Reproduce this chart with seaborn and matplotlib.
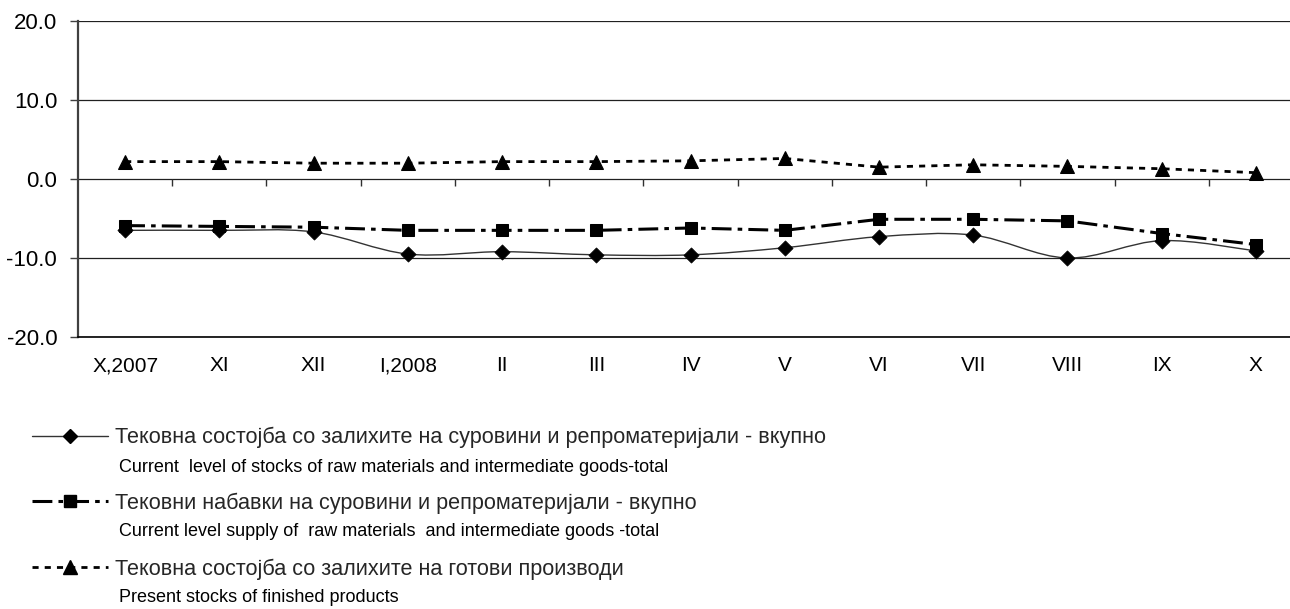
import numpy as np
import pandas as pd
import seaborn as sns
import matplotlib.pyplot as plt
from matplotlib.path import Path
from matplotlib.patches import PathPatch
from matplotlib.lines import Line2D

# values
months = ['X,2007', 'XI', 'XII', 'I,2008', 'II', 'III', 'IV', 'V', 'VI', 'VII', 'VIII', 'IX', 'X']
stocks_raw = [-6.5, -6.5, -6.7, -9.5, -9.2, -9.6, -9.6, -8.7, -7.3, -7.1, -10.0, -7.8, -9.1]
supply_raw = [-5.9, -6.0, -6.1, -6.5, -6.5, -6.5, -6.2, -6.5, -5.1, -5.1, -5.3, -6.9, -8.3]
stocks_finished = [2.2, 2.2, 2.0, 2.0, 2.2, 2.2, 2.3, 2.6, 1.5, 1.8, 1.6, 1.3, 0.8]
y_ticks = [-20, -10, 0, 10, 20]

labels_mk = ['Тековна состојба со залихите на суровини и репроматеријали - вкупно',
             'Тековни набавки на суровини и репроматеријали - вкупно',
             'Тековна состојба со залихите на готови производи']
labels_en = ['Current  level of stocks of raw materials and intermediate goods-total',
             'Current level supply of  raw materials  and intermediate goods -total',
             'Present stocks of finished products']

sns.set_theme(style='white')
plt.rcParams['font.family'] = ['Liberation Sans', 'DejaVu Sans']

x = np.arange(len(months))
df = pd.DataFrame({'x': x, 'stocks': stocks_raw, 'supply': supply_raw,
                   'finished': stocks_finished})

fig = plt.figure(figsize=(12.9, 6.09), dpi=100)
ax = fig.add_axes([78 / 1290, 1 - 337 / 609, 1225 / 1290, 316 / 609])

# smoothed line for raw stocks (excel style bezier through the points)
pts = df[['x', 'stocks']].to_numpy(dtype=float)
verts = [pts[0]]
codes = [Path.MOVETO]
for i in range(len(pts) - 1):
    p0 = pts[i - 1] if i > 0 else pts[i]
    p1, p2 = pts[i], pts[i + 1]
    p3 = pts[i + 2] if i + 2 < len(pts) else pts[i + 1]
    verts += [p1 + (p2 - p0) / 6, p2 - (p3 - p1) / 6, p2]
    codes += [Path.CURVE4] * 3
ax.add_patch(PathPatch(Path(verts, codes), fill=False, edgecolor='#333333', lw=1.0, zorder=3))
sns.scatterplot(data=df, x='x', y='stocks', marker='D', s=60, color='black',
                edgecolor='black', linewidth=0.5, zorder=4, ax=ax)

supply_style = (0, (6.5, 2, 1.5, 2))
finished_style = (0, (2.2, 2.2))
sns.lineplot(data=df, x='x', y='supply', color='black', lw=2.2, linestyle=supply_style,
             marker='s', markersize=8.5, markeredgecolor='black', zorder=4, ax=ax)
sns.lineplot(data=df, x='x', y='finished', color='black', lw=2.0, linestyle=finished_style,
             marker='^', markersize=9.5, markeredgecolor='black', zorder=4, ax=ax)

ax.set_xlim(-0.5, len(months) - 0.5)
ax.set_ylim(-20, 20)
ax.set_yticks(y_ticks)
ax.set_yticklabels([f'{v:.1f}' for v in y_ticks])
ax.set_xticks(x)
ax.set_xticklabels(months)
ax.set_xlabel('')
ax.set_ylabel('')

ax.yaxis.grid(True, color='#202020', lw=0.9)
ax.xaxis.grid(False)
ax.set_axisbelow(True)

# tick marks between categories on the zero line
ax.vlines(x[:-1] + 0.5, -0.9, 0, color='#303030', lw=1.0, zorder=2)

for side in ['top', 'right']:
    ax.spines[side].set_visible(False)
ax.spines['left'].set_color('#404040')
ax.spines['left'].set_linewidth(1.6)
ax.spines['bottom'].set_color('black')
ax.spines['bottom'].set_linewidth(1.2)

ax.tick_params(axis='y', left=True, length=6, width=1, color='#404040', pad=9,
               labelsize=16, labelcolor='black')
ax.tick_params(axis='x', bottom=False, length=0, pad=14, labelsize=15, labelcolor='black')

handles = [
    Line2D([], [], color='#333333', lw=1.0, marker='D', markersize=7,
           markerfacecolor='black', markeredgecolor='black'),
    Line2D([], [], color='black', lw=2.2, linestyle=supply_style, marker='s',
           markersize=8.5, markerfacecolor='black', markeredgecolor='black'),
    Line2D([], [], color='black', lw=2.0, linestyle=finished_style, marker='^',
           markersize=9.5, markerfacecolor='black', markeredgecolor='black'),
]
fig.legend(handles, labels_mk, loc='upper left', bbox_to_anchor=(32 / 1290, 1 - 427 / 609),
           frameon=False, fontsize=15.6, handlelength=3.5, handletextpad=0.35,
           labelspacing=2.05, borderpad=0, borderaxespad=0, numpoints=1)

for i, txt in enumerate(labels_en):
    fig.text(119 / 1290, 1 - (467 + 65 * i) / 609, txt, fontsize=13, va='center', color='black')

fig.savefig('out.png', dpi=100)
